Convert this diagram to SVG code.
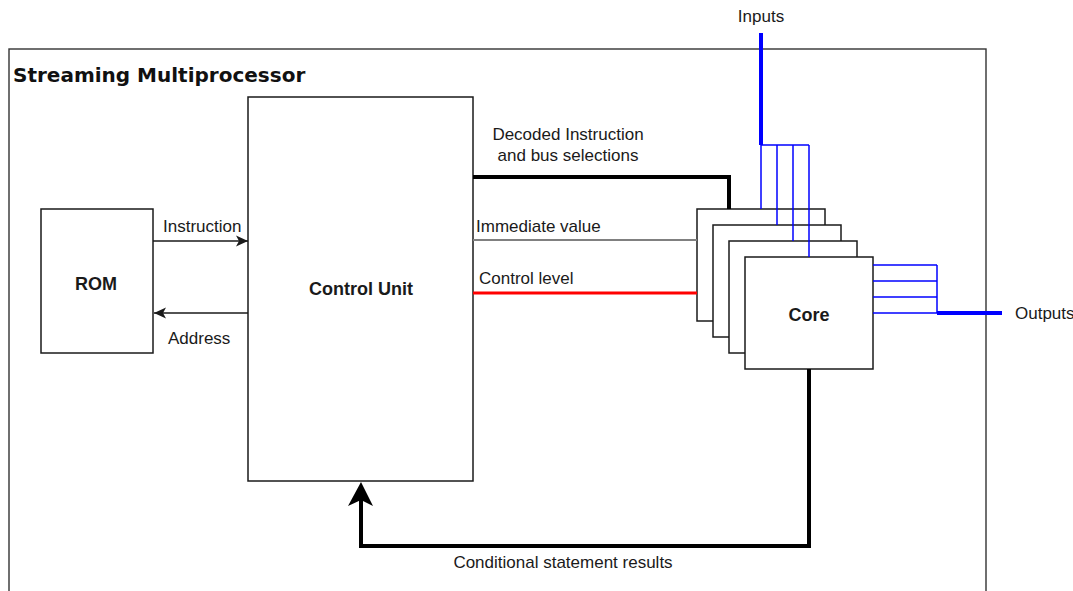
<svg xmlns="http://www.w3.org/2000/svg" width="1073" height="591" viewBox="0 0 1073 591">
  <style>
    .box { fill: #ffffff; stroke: #1a1a1a; stroke-width: 1.5; }
    .frame { fill: #ffffff; stroke: #333333; stroke-width: 1.4; }
    .lbl { font-family: "Liberation Sans", Arial, sans-serif; font-size: 17px; fill: #1a1a1a; }
    .name { font-family: "Liberation Sans", Arial, sans-serif; font-size: 18px; font-weight: bold; fill: #1a1a1a; text-anchor: middle; }
    .title { font-family: "DejaVu Sans", Verdana, sans-serif; font-size: 20px; font-weight: bold; fill: #111111; }
    .thin { fill: none; stroke: #1a1a1a; stroke-width: 1.5; }
    .bold { fill: none; stroke: #000000; stroke-width: 4; }
    .bus { fill: none; stroke: #0000ff; stroke-width: 1.5; }
    .busw { fill: none; stroke: #0000ff; stroke-width: 4; }
  </style>
  <defs>
    <marker id="arrow" viewBox="0 0 12 12" refX="12" refY="6" markerWidth="12" markerHeight="12" markerUnits="userSpaceOnUse" orient="auto">
      <path d="M0,0.5 L12,6 L0,11.5 L3,6 Z" fill="#1a1a1a"/>
    </marker>
  </defs>

  <!-- enclosing block -->
  <g id="sm">
    <rect class="frame" x="9" y="49" width="977" height="580"/>
    <text class="title" x="13" y="82">Streaming Multiprocessor</text>
  </g>

  <g id="rom">
    <rect class="box" x="41" y="209" width="112" height="144"/>
    <text class="name" x="96" y="290">ROM</text>
  </g>

  <g id="control-unit">
    <rect class="box" x="248" y="97" width="225" height="384"/>
    <text class="name" x="361" y="295">Control Unit</text>
  </g>

  <!-- stack of cores, back to front -->
  <g id="cores">
    <rect class="box" x="697" y="209" width="128" height="112"/>
    <rect class="box" x="713" y="225" width="128" height="112"/>
    <rect class="box" x="729" y="241" width="128" height="112"/>
    <rect class="box" x="745" y="257" width="128" height="112"/>
    <text class="name" x="809" y="321">Core</text>
  </g>

  <g id="connectors">
    <!-- ROM <-> control unit -->
    <line class="thin" x1="153" y1="241" x2="248" y2="241" marker-end="url(#arrow)"/>
    <text class="lbl" x="163" y="232">Instruction</text>
    <line class="thin" x1="248" y1="313" x2="154" y2="313" marker-end="url(#arrow)"/>
    <text class="lbl" x="168" y="344">Address</text>

    <!-- control unit -> cores -->
    <polyline class="bold" points="473,177 729,177 729,209"/>
    <text class="lbl" x="568" y="140" text-anchor="middle">Decoded Instruction</text>
    <text class="lbl" x="568" y="161" text-anchor="middle">and bus selections</text>
    <line x1="473" y1="240" x2="697" y2="240" stroke="#808080" stroke-width="2"/>
    <text class="lbl" x="476" y="232">Immediate value</text>
    <line x1="473" y1="293" x2="697" y2="293" stroke="#ff0000" stroke-width="3"/>
    <text class="lbl" x="479" y="284">Control level</text>

    <!-- feedback from cores -->
    <polyline class="bold" points="809,369 809,546 361,546 361,500"/>
    <path d="M361,482 L373,506 L361,500 L348,506 Z" fill="#000000"/>
    <text class="lbl" x="563" y="568" text-anchor="middle">Conditional statement results</text>

    <!-- input bus -->
    <line class="busw" x1="761" y1="33" x2="761" y2="145"/>
    <line class="bus" x1="761" y1="145" x2="809" y2="145"/>
    <line class="bus" x1="761" y1="145" x2="761" y2="209"/>
    <line class="bus" x1="777" y1="145" x2="777" y2="225"/>
    <line class="bus" x1="793" y1="145" x2="793" y2="241"/>
    <line class="bus" x1="809" y1="145" x2="809" y2="257"/>
    <text class="lbl" x="761" y="22" text-anchor="middle">Inputs</text>

    <!-- output bus -->
    <line class="bus" x1="873" y1="265" x2="937" y2="265"/>
    <line class="bus" x1="873" y1="281" x2="937" y2="281"/>
    <line class="bus" x1="873" y1="297" x2="937" y2="297"/>
    <line class="bus" x1="873" y1="313" x2="937" y2="313"/>
    <line class="bus" x1="937" y1="265" x2="937" y2="313"/>
    <line class="busw" x1="937" y1="313" x2="1002" y2="313"/>
    <text class="lbl" x="1015" y="319">Outputs</text>
  </g>
</svg>
